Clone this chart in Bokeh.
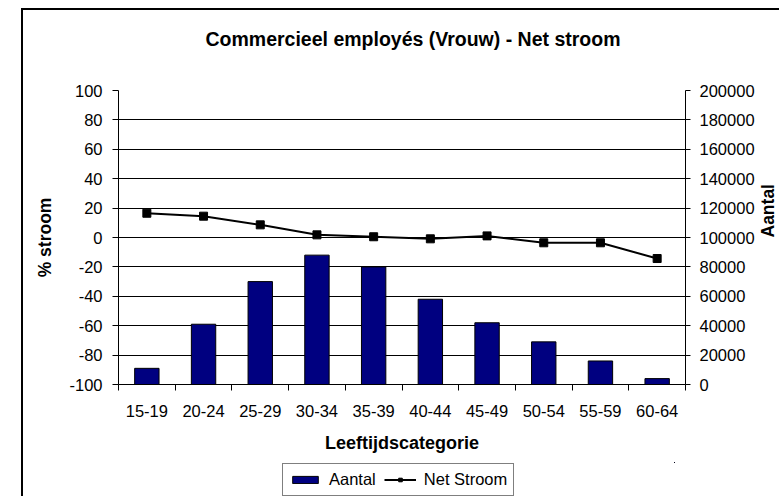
import math
from bokeh.plotting import figure
from bokeh.layouts import column
from bokeh.models import (Range1d, LinearAxis, FixedTicker, Legend, LegendItem, Title,
                          BasicTickFormatter, ColumnDataSource)
from bokeh.embed import file_html
from bokeh.resources import INLINE

categories = ["15-19", "20-24", "25-29", "30-34", "35-39",
              "40-44", "45-49", "50-54", "55-59", "60-64"]
aantal = [11000, 41000, 70000, 88000, 80000, 58000, 42000, 29000, 16000, 4000]
net_stroom = [16.5, 14.5, 8.6, 1.8, 0.5, -0.9, 1.1, -3.6, -3.6, -14.3]
left_ticks = list(range(-100, 101, 20))
left_tick_labels = [str(t) for t in left_ticks]
right_ticks = list(range(0, 200001, 20000))

FONT = "Liberation Sans"
TICK_SIZE = "16.5px"
YLABEL_SIZE = "17.5px"
XLABEL_SIZE = "18px"
BLACK = "black"
NAVY = "#000080"

xpos = [i + 0.5 for i in range(len(categories))]
src = ColumnDataSource(dict(x=xpos, cat=categories, aantal=aantal, net=net_stroom))

p = figure(frame_width=567, frame_height=294, output_backend="svg", toolbar_location=None, tools="",
           x_range=Range1d(0, len(categories)), y_range=Range1d(-100, 100),
           min_border_left=95, min_border_right=94, min_border_top=80, min_border_bottom=78)
p.outline_line_color = None
p.background_fill_color = "white"
p.border_fill_color = "white"

# spacer between frame and title (invisible)
p.add_layout(Title(text=" ", text_font_size="10px", standoff=22), "above")

p.title.text = "Commercieel employés (Vrouw) - Net stroom"
p.title.text_font = FONT
p.title.text_font_size = "19.5px"
p.title.text_font_style = "bold"
p.title.text_color = BLACK
p.title.align = "left"
p.title.vertical_align = "middle"
p.title.offset = 87
p.title.standoff = 10

p.extra_y_ranges = {"aantal": Range1d(0, 200000)}

bars = p.vbar(x="x", top="aantal", bottom=0, width=0.43, y_range_name="aantal",
              fill_color=NAVY, line_color="black", line_width=1, source=src)
line = p.line(x="x", y="net", line_color="black", line_width=2, source=src)
marks = p.scatter(x="x", y="net", marker="square", size=8, color="black", source=src)

p.xgrid.visible = False
p.ygrid.ticker = FixedTicker(ticks=left_ticks)
p.ygrid.grid_line_color = "black"
p.ygrid.grid_line_width = 1

# left axis
ya = p.yaxis[0]
ya.ticker = FixedTicker(ticks=left_ticks)
ya.major_label_overrides = {t: s for t, s in zip(left_ticks, left_tick_labels)}
ya.axis_label = "% stroom"
ya.axis_label_text_font = FONT
ya.axis_label_text_font_size = YLABEL_SIZE
ya.axis_label_text_font_style = "bold"
ya.axis_label_text_color = BLACK
ya.axis_label_standoff = 11
ya.major_label_text_font = FONT
ya.major_label_text_font_size = TICK_SIZE
ya.major_label_text_color = BLACK
ya.major_label_standoff = 10
ya.major_tick_out = 6
ya.major_tick_in = 0
ya.minor_tick_line_color = None
ya.axis_line_color = "black"
ya.major_tick_line_color = "black"

# right axis
ra = LinearAxis(y_range_name="aantal", ticker=FixedTicker(ticks=right_ticks),
                formatter=BasicTickFormatter(use_scientific=False))
ra.axis_label = "Aantal"
ra.axis_label_orientation = math.pi / 2
ra.axis_label_text_font = FONT
ra.axis_label_text_font_size = YLABEL_SIZE
ra.axis_label_text_font_style = "bold"
ra.axis_label_text_color = BLACK
ra.axis_label_standoff = 10
ra.major_label_text_font = FONT
ra.major_label_text_font_size = TICK_SIZE
ra.major_label_text_color = BLACK
ra.major_label_standoff = 9
ra.major_tick_out = 5
ra.major_tick_in = 0
ra.minor_tick_line_color = None
ra.axis_line_color = "black"
ra.major_tick_line_color = "black"
p.add_layout(ra, "right")

# x axis: labels at category centres, tick marks between categories
xa = p.xaxis[0]
xa.ticker = FixedTicker(ticks=xpos, minor_ticks=list(range(len(categories) + 1)))
xa.major_label_overrides = {xv: c for xv, c in zip(xpos, categories)}
xa.major_tick_line_color = None
xa.major_tick_out = 6
xa.major_tick_in = 0
xa.minor_tick_line_color = "black"
xa.minor_tick_out = 6
xa.minor_tick_in = 0
xa.major_label_text_font = FONT
xa.major_label_text_font_size = TICK_SIZE
xa.major_label_text_color = BLACK
xa.major_label_standoff = 14
xa.axis_label = "Leeftijdscategorie"
xa.axis_label_text_font = FONT
xa.axis_label_text_font_size = XLABEL_SIZE
xa.axis_label_text_font_style = "bold"
xa.axis_label_text_color = BLACK
xa.axis_label_standoff = 13
xa.axis_line_color = "black"

# legend strip: a small companion figure; its renderers use the same series
# but its ranges keep them out of view, so only the legend shows
lg = figure(width=756, height=34, output_backend="svg", toolbar_location=None, tools="",
            x_range=Range1d(-2, -1), y_range=Range1d(-2, -1), min_border=0)
lg.axis.visible = False
lg.grid.visible = False
lg.outline_line_color = None
lg.background_fill_color = "white"
lg.border_fill_color = "white"
lg_bar = lg.vbar(x="x", top="aantal", width=0.43, fill_color=NAVY, line_color="black",
                 line_width=1, source=src)
lg_line = lg.line(x="x", y="net", line_color="black", line_width=2, source=src)
lg_mark = lg.scatter(x="x", y="net", marker="square", size=7, color="black", source=src)

legend = Legend(items=[LegendItem(label="Aantal", renderers=[lg_bar]),
                       LegendItem(label="Net Stroom", renderers=[lg_line, lg_mark])],
                orientation="horizontal", location=(164, 0))
legend.border_line_color = "black"
legend.border_line_width = 1
legend.background_fill_color = "white"
legend.label_text_font = FONT
legend.label_text_font_size = TICK_SIZE
legend.label_text_color = BLACK
legend.glyph_width = 32
legend.glyph_height = 9
legend.padding = 6
legend.spacing = 8
legend.label_standoff = 8
legend.margin = 0
lg.add_layout(legend)

layout = column(p, lg, spacing=0)
layout.styles = {"margin-left": "21px", "margin-top": "8px",
                 "border-left": "2px solid #000", "border-top": "2px solid #000"}

open("out.html", "w").write(file_html(layout, INLINE))
